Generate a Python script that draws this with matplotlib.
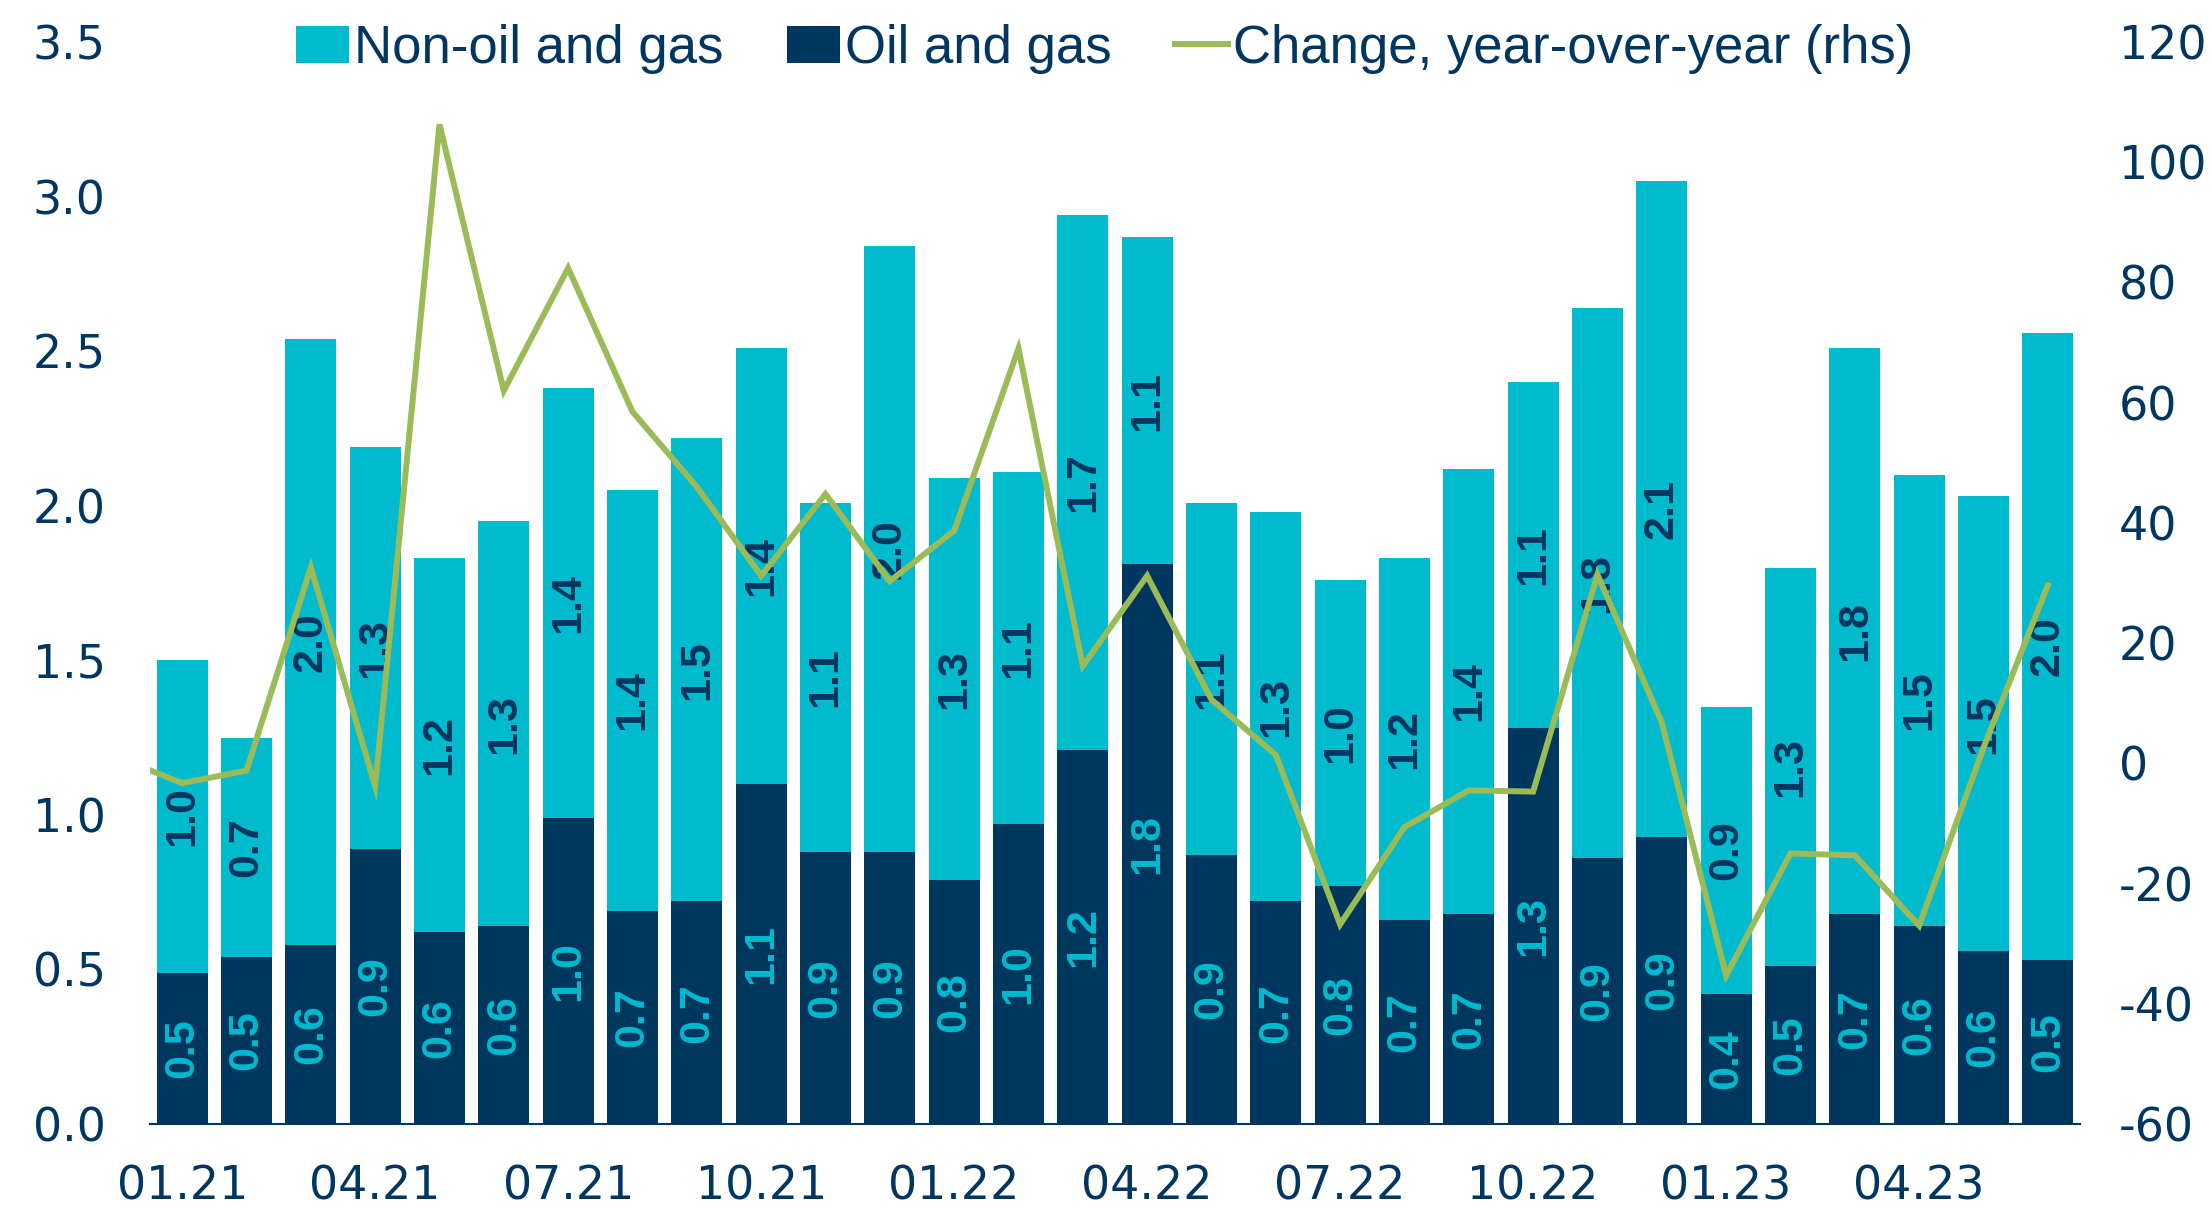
import matplotlib
matplotlib.use("Agg")
import matplotlib.pyplot as plt
import numpy as np
from matplotlib.patches import Patch
from matplotlib.lines import Line2D

plt.rcParams['axes.unicode_minus'] = False

months = ['01.21', '02.21', '03.21', '04.21', '05.21', '06.21', '07.21', '08.21', '09.21', '10.21',
          '11.21', '12.21', '01.22', '02.22', '03.22', '04.22', '05.22', '06.22', '07.22', '08.22',
          '09.22', '10.22', '11.22', '12.22', '01.23', '02.23', '03.23', '04.23', '05.23', '06.23']

oil_gas = [0.49, 0.54, 0.58, 0.89, 0.62, 0.64, 0.99, 0.69, 0.72, 1.10,
           0.88, 0.88, 0.79, 0.97, 1.21, 1.81, 0.87, 0.72, 0.77, 0.66,
           0.68, 1.28, 0.86, 0.93, 0.42, 0.51, 0.68, 0.64, 0.56, 0.53]

non_oil_gas = [1.01, 0.71, 1.96, 1.30, 1.21, 1.31, 1.39, 1.36, 1.50, 1.41,
               1.13, 1.96, 1.30, 1.14, 1.73, 1.06, 1.14, 1.26, 0.99, 1.17,
               1.44, 1.12, 1.78, 2.12, 0.93, 1.29, 1.83, 1.46, 1.47, 2.03]

# year-over-year change (rhs); first value is 12.20 (only partly visible)
yoy_months = ['12.20'] + months
yoy_change = [1.0, -3.3, -1.2, 32.6, -3.8, 106.3, 62.0, 82.4, 58.5, 46.0, 31.2,
              44.8, 30.3, 38.7, 69.0, 16.2, 31.2, 10.6, 1.4, -26.8, -10.6,
              -4.5, -4.7, 31.4, 6.8, -35.3, -15.0, -15.3, -27.0, 2.6, 29.6]

CYAN = '#00BACE'
NAVY = '#00375F'
GREEN = '#9BBB59'
TXT = '#003660'

fig = plt.figure(figsize=(22.12, 12.15), dpi=100)
ax = fig.add_axes([0.0678, 0.0749, 0.8725, 0.8905])
ax2 = ax.twinx()

x = np.arange(len(months))
oil = np.array(oil_gas)
non = np.array(non_oil_gas)
w = 0.79
ax.bar(x, oil, width=w, color=NAVY, zorder=2)
ax.bar(x, non, width=w, bottom=oil, color=CYAN, zorder=2)

xl = np.arange(len(yoy_months)) - 1
ax2.plot(xl, yoy_change, color=GREEN, lw=4.3, zorder=3, solid_joinstyle='miter')

lab_font = dict(family='Liberation Sans', weight='bold', fontsize=31)
for i in range(len(months)):
    ax.text(x[i], oil[i] / 2, f"{oil[i]:.1f}", rotation=90,
            ha='center', va='center', color=CYAN, zorder=5, **lab_font)
    ax.text(x[i], oil[i] + non[i] / 2, f"{non[i]:.1f}", rotation=90,
            ha='center', va='center', color=TXT, zorder=5, **lab_font)

ax.set_xlim(-0.5, len(months) - 0.5)
ax.set_ylim(0, 3.5)
ax2.set_ylim(-60, 120)
ax.set_yticks(np.arange(0, 3.51, 0.5))
ax.set_yticklabels([f"{v:.1f}" for v in np.arange(0, 3.51, 0.5)])
ax2.set_yticks(np.arange(-60, 121, 20))
ax.set_xticks(x[::3])
ax.set_xticklabels(months[::3])

for lab in ax.get_xticklabels() + ax.get_yticklabels() + ax2.get_yticklabels():
    lab.set_fontfamily('DejaVu Sans')
    lab.set_fontsize(33)
    lab.set_color(TXT)

ax.tick_params(axis='y', length=0, pad=32)
ax.tick_params(axis='x', length=0, pad=29)
ax2.tick_params(axis='y', length=0, pad=28)

for a in (ax, ax2):
    for s in ('top', 'left', 'right', 'bottom'):
        a.spines[s].set_visible(False)
ax.spines['bottom'].set_visible(True)
ax.spines['bottom'].set_color(NAVY)
ax.spines['bottom'].set_linewidth(1.5)

handles = [Patch(facecolor=CYAN, label='Non-oil and gas'),
           Patch(facecolor=NAVY, label='Oil and gas'),
           Line2D([0], [0], color=GREEN, lw=4.3, label='Change, year-over-year (rhs)')]
fig.legend(handles=handles, loc='center', bbox_to_anchor=(0.4995, 0.96), ncol=3,
           frameon=False, prop=dict(family='Liberation Sans', size=38),
           labelcolor=TXT, handlelength=1.0, handleheight=0.7, handletextpad=0.1,
           columnspacing=1.2, borderaxespad=0)

fig.savefig('out.png', dpi=100)
